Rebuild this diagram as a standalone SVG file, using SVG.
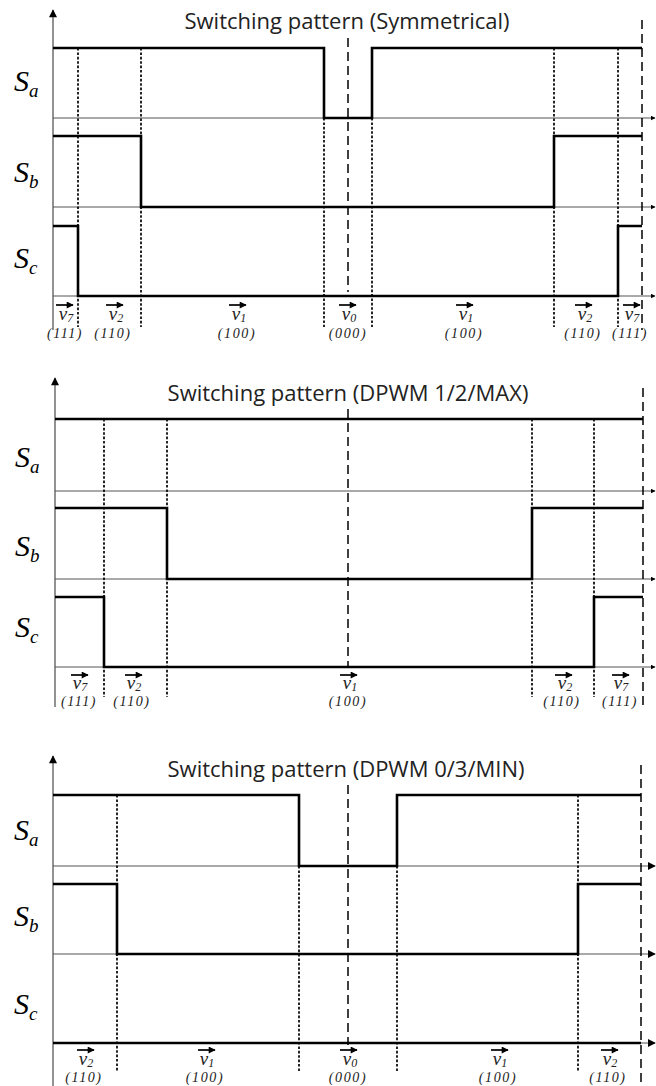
<svg xmlns="http://www.w3.org/2000/svg" width="656" height="1086" viewBox="0 0 656 1086">
<style>
.wave{stroke:#000;stroke-width:2.6;fill:none;stroke-linejoin:miter}
.axis{stroke:#555;stroke-width:1.1;fill:none}
.vaxis{stroke:#777;stroke-width:1.6;fill:none}
.dot{stroke:#000;stroke-width:1.7;stroke-dasharray:2.6 1.8;fill:none}
.dash{stroke:#000;stroke-width:1.5;stroke-dasharray:9 5;fill:none}
.title{font-family:"Open Sans",sans-serif;font-size:22px;fill:#222;text-anchor:middle}
.sig{font-family:"Liberation Serif",serif;font-style:italic;font-size:30px;fill:#000}
.sub{font-size:19px}
.vec{font-family:"Liberation Serif",serif;font-style:italic;font-size:19px;fill:#222;text-anchor:middle}
.vs{font-size:12px}
.code{font-family:"Liberation Serif",serif;font-style:italic;font-size:14px;fill:#222;text-anchor:middle;letter-spacing:1.6px}
.varr{stroke:#000;stroke-width:1.7}
</style>
<defs>
<marker id="ha" viewBox="0 0 10 10" refX="9" refY="5" markerWidth="5" markerHeight="5" orient="auto" markerUnits="userSpaceOnUse"><path d="M0,0 L10,5 L0,10 z" fill="#000"/></marker>
<marker id="hb" viewBox="0 0 10 10" refX="9" refY="5" markerWidth="8" markerHeight="8" orient="auto" markerUnits="userSpaceOnUse"><path d="M0,0 L10,5 L0,10 z" fill="#000"/></marker>
<marker id="ya" viewBox="0 0 10 10" refX="9" refY="5" markerWidth="11" markerHeight="8" orient="auto" markerUnits="userSpaceOnUse"><path d="M0,0 L10,5 L0,10 z" fill="#000"/></marker>
<marker id="va" viewBox="0 0 10 10" refX="9" refY="5" markerWidth="9" markerHeight="7" orient="auto" markerUnits="userSpaceOnUse"><path d="M0,0 L10,5 L0,10 z" fill="#000"/></marker>
</defs>

<!-- Panel 1 -->
<g id="panel1">
  <text class="title" x="347" y="29">Switching pattern (Symmetrical)</text>
  <g id="p1-axes">
    <line class="vaxis" x1="53" y1="330" x2="53" y2="10" marker-end="url(#ya)"/>
    <line class="axis" x1="53" y1="118" x2="655" y2="118" marker-end="url(#ha)"/>
    <line class="axis" x1="53" y1="207" x2="655" y2="207" marker-end="url(#ha)"/>
    <line class="axis" x1="53" y1="296" x2="655" y2="296" marker-end="url(#ha)"/>
  </g>
  <g id="p1-guides">
    <line class="dot" x1="78" y1="48" x2="78" y2="327"/>
    <line class="dot" x1="141" y1="48" x2="141" y2="327"/>
    <line class="dot" x1="324" y1="118" x2="324" y2="327"/>
    <line class="dot" x1="372" y1="118" x2="372" y2="327"/>
    <line class="dot" x1="554" y1="48" x2="554" y2="327"/>
    <line class="dot" x1="618" y1="48" x2="618" y2="327"/>
    <line class="dash" x1="348" y1="38" x2="348" y2="292"/>
    <line class="dash" x1="642" y1="20" x2="642" y2="330"/>
  </g>
  <g id="p1-Sa">
    <text class="sig" x="14" y="91">S<tspan class="sub" dy="6">a</tspan></text>
    <polyline class="wave" points="53,48 324,48 324,118 372,118 372,48 642,48"/>
  </g>
  <g id="p1-Sb">
    <text class="sig" x="14" y="182">S<tspan class="sub" dy="6">b</tspan></text>
    <polyline class="wave" points="53,136 141,136 141,207 554,207 554,136 642,136"/>
  </g>
  <g id="p1-Sc">
    <text class="sig" x="14" y="268">S<tspan class="sub" dy="6">c</tspan></text>
    <polyline class="wave" points="53,226 78,226 78,296 618,296 618,226 642,226"/>
  </g>
  <g id="p1-labels">
    <line class="varr" x1="56" y1="305" x2="73" y2="305" marker-end="url(#va)"/>
    <text class="vec" x="66" y="320">v<tspan class="vs" dy="2">7</tspan></text>
    <text class="code" x="65" y="338">(111)</text>
    <line class="varr" x1="106" y1="305" x2="123" y2="305" marker-end="url(#va)"/>
    <text class="vec" x="116" y="320">v<tspan class="vs" dy="2">2</tspan></text>
    <text class="code" x="113" y="338">(110)</text>
    <line class="varr" x1="229" y1="305" x2="246" y2="305" marker-end="url(#va)"/>
    <text class="vec" x="239" y="320">v<tspan class="vs" dy="2">1</tspan></text>
    <text class="code" x="237" y="338">(100)</text>
    <line class="varr" x1="339" y1="305" x2="356" y2="305" marker-end="url(#va)"/>
    <text class="vec" x="349" y="320">v<tspan class="vs" dy="2">0</tspan></text>
    <text class="code" x="348" y="338">(000)</text>
    <line class="varr" x1="456" y1="305" x2="473" y2="305" marker-end="url(#va)"/>
    <text class="vec" x="466" y="320">v<tspan class="vs" dy="2">1</tspan></text>
    <text class="code" x="464" y="338">(100)</text>
    <line class="varr" x1="575" y1="305" x2="592" y2="305" marker-end="url(#va)"/>
    <text class="vec" x="585" y="320">v<tspan class="vs" dy="2">2</tspan></text>
    <text class="code" x="583" y="338">(110)</text>
    <line class="varr" x1="623" y1="305" x2="640" y2="305" marker-end="url(#va)"/>
    <text class="vec" x="632" y="320">v<tspan class="vs" dy="2">7</tspan></text>
    <text class="code" x="630" y="338">(111)</text>
  </g>
</g>

<!-- Panel 2 -->
<g id="panel2">
  <text class="title" x="348" y="401">Switching pattern (DPWM 1/2/MAX)</text>
  <g id="p2-axes">
    <line class="vaxis" x1="55" y1="707" x2="55" y2="378" marker-end="url(#ya)"/>
    <line class="axis" x1="55" y1="491" x2="655" y2="491" marker-end="url(#ha)"/>
    <line class="axis" x1="55" y1="579" x2="655" y2="579" marker-end="url(#ha)"/>
    <line class="axis" x1="55" y1="667" x2="655" y2="667" marker-end="url(#ha)"/>
  </g>
  <g id="p2-guides">
    <line class="dot" x1="104" y1="419" x2="104" y2="697"/>
    <line class="dot" x1="167" y1="419" x2="167" y2="697"/>
    <line class="dot" x1="532" y1="419" x2="532" y2="697"/>
    <line class="dot" x1="594" y1="419" x2="594" y2="697"/>
    <line class="dash" x1="348" y1="409" x2="348" y2="667"/>
    <line class="dash" x1="643" y1="388" x2="643" y2="710"/>
  </g>
  <g id="p2-Sa">
    <text class="sig" x="15" y="467">S<tspan class="sub" dy="6">a</tspan></text>
    <polyline class="wave" points="55,419 643,419"/>
  </g>
  <g id="p2-Sb">
    <text class="sig" x="15" y="556">S<tspan class="sub" dy="6">b</tspan></text>
    <polyline class="wave" points="55,508 167,508 167,579 532,579 532,508 643,508"/>
  </g>
  <g id="p2-Sc">
    <text class="sig" x="15" y="637">S<tspan class="sub" dy="6">c</tspan></text>
    <polyline class="wave" points="55,597 104,597 104,667 594,667 594,597 643,597"/>
  </g>
  <g id="p2-labels">
    <line class="varr" x1="71" y1="675" x2="88" y2="675" marker-end="url(#va)"/>
    <text class="vec" x="80" y="689">v<tspan class="vs" dy="2">7</tspan></text>
    <text class="code" x="79" y="706">(111)</text>
    <line class="varr" x1="125" y1="675" x2="142" y2="675" marker-end="url(#va)"/>
    <text class="vec" x="134" y="689">v<tspan class="vs" dy="2">2</tspan></text>
    <text class="code" x="132" y="706">(110)</text>
    <line class="varr" x1="340" y1="675" x2="357" y2="675" marker-end="url(#va)"/>
    <text class="vec" x="350" y="689">v<tspan class="vs" dy="2">1</tspan></text>
    <text class="code" x="348" y="706">(100)</text>
    <line class="varr" x1="555" y1="675" x2="572" y2="675" marker-end="url(#va)"/>
    <text class="vec" x="565" y="689">v<tspan class="vs" dy="2">2</tspan></text>
    <text class="code" x="562" y="706">(110)</text>
    <line class="varr" x1="612" y1="675" x2="629" y2="675" marker-end="url(#va)"/>
    <text class="vec" x="621" y="689">v<tspan class="vs" dy="2">7</tspan></text>
    <text class="code" x="620" y="706">(111)</text>
  </g>
</g>

<!-- Panel 3 -->
<g id="panel3">
  <text class="title" x="346" y="777">Switching pattern (DPWM 0/3/MIN)</text>
  <g id="p3-axes">
    <line class="vaxis" x1="53" y1="1086" x2="53" y2="756" marker-end="url(#ya)"/>
    <line class="axis" x1="53" y1="866" x2="655" y2="866" marker-end="url(#hb)"/>
    <line class="axis" x1="53" y1="954" x2="655" y2="954" marker-end="url(#hb)"/>
    <line class="axis" x1="53" y1="1043" x2="655" y2="1043" marker-end="url(#hb)"/>
  </g>
  <g id="p3-guides">
    <line class="dot" x1="117" y1="795" x2="117" y2="1072"/>
    <line class="dot" x1="299" y1="866" x2="299" y2="1072"/>
    <line class="dot" x1="397" y1="866" x2="397" y2="1072"/>
    <line class="dot" x1="578" y1="795" x2="578" y2="1072"/>
    <line class="dash" x1="348" y1="785" x2="348" y2="1045"/>
    <line class="dash" x1="641" y1="765" x2="641" y2="1086"/>
  </g>
  <g id="p3-Sa">
    <text class="sig" x="14" y="840">S<tspan class="sub" dy="6">a</tspan></text>
    <polyline class="wave" points="53,795 299,795 299,866 397,866 397,795 641,795"/>
  </g>
  <g id="p3-Sb">
    <text class="sig" x="14" y="926">S<tspan class="sub" dy="6">b</tspan></text>
    <polyline class="wave" points="53,884 117,884 117,954 578,954 578,884 641,884"/>
  </g>
  <g id="p3-Sc">
    <text class="sig" x="14" y="1014">S<tspan class="sub" dy="6">c</tspan></text>
    <polyline class="wave" points="53,1043 641,1043"/>
  </g>
  <g id="p3-labels">
    <line class="varr" x1="77" y1="1050" x2="94" y2="1050" marker-end="url(#va)"/>
    <text class="vec" x="86" y="1065">v<tspan class="vs" dy="2">2</tspan></text>
    <text class="code" x="84" y="1082">(110)</text>
    <line class="varr" x1="198" y1="1050" x2="215" y2="1050" marker-end="url(#va)"/>
    <text class="vec" x="207" y="1065">v<tspan class="vs" dy="2">1</tspan></text>
    <text class="code" x="205" y="1082">(100)</text>
    <line class="varr" x1="340" y1="1050" x2="357" y2="1050" marker-end="url(#va)"/>
    <text class="vec" x="350" y="1065">v<tspan class="vs" dy="2">0</tspan></text>
    <text class="code" x="348" y="1082">(000)</text>
    <line class="varr" x1="491" y1="1050" x2="508" y2="1050" marker-end="url(#va)"/>
    <text class="vec" x="500" y="1065">v<tspan class="vs" dy="2">1</tspan></text>
    <text class="code" x="498" y="1082">(100)</text>
    <line class="varr" x1="601" y1="1050" x2="618" y2="1050" marker-end="url(#va)"/>
    <text class="vec" x="610" y="1065">v<tspan class="vs" dy="2">2</tspan></text>
    <text class="code" x="608" y="1082">(110)</text>
  </g>
</g>
</svg>
